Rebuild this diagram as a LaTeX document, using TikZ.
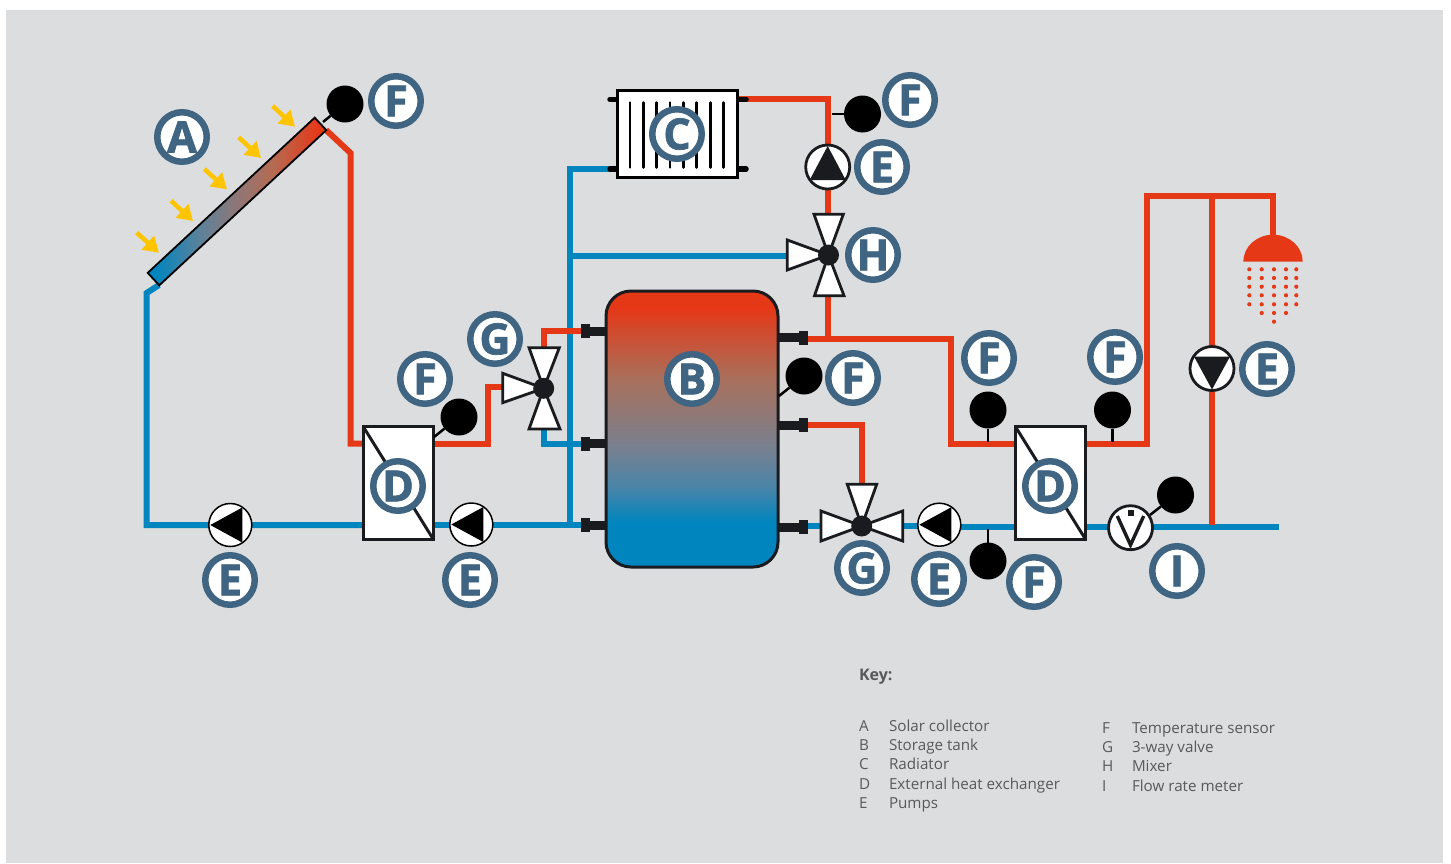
\documentclass[tikz,border=0pt]{standalone}
\usepackage{fontspec}
\setmainfont{Open Sans}
\newfontfamily\badgefont[FakeBold=1.6]{Open Sans Bold}
\usetikzlibrary{arrows.meta}
\definecolor{bgc}{HTML}{DCDDDF}
\definecolor{redp}{HTML}{E53817}
\definecolor{bluep}{HTML}{0085BF}
\definecolor{ring}{HTML}{3F6582}
\definecolor{darkc}{HTML}{1A1B1F}
\definecolor{keyc}{HTML}{58595B}
\definecolor{sun}{HTML}{FFC400}
\definecolor{ta}{HTML}{4A85A8}
\definecolor{tb}{HTML}{7A808E}
\definecolor{tc}{HTML}{A8705C}
\definecolor{pa}{HTML}{5F8299}
\definecolor{pb}{HTML}{8F7676}
\definecolor{pc}{HTML}{B56B52}
\pgfdeclareverticalshading{tankshade}{100bp}{color(0bp)=(bluep); color(33bp)=(bluep); color(39.5bp)=(ta); color(47bp)=(tb); color(59bp)=(tc); color(72bp)=(redp); color(100bp)=(redp)}
\pgfdeclarehorizontalshading{panelshade}{100bp}{color(0bp)=(bluep); color(27bp)=(bluep); color(40bp)=(pa); color(50bp)=(pb); color(60bp)=(pc); color(73bp)=(redp); color(100bp)=(redp)}
\tikzset{
  redpipe/.style={draw=redp,line width=6pt,line join=miter},
  bluepipe/.style={draw=bluep,line width=6pt,line join=miter},
  badge/.style={circle,draw=ring,fill=white,line width=6.5pt,minimum size=49.5pt,inner sep=0pt,outer sep=0pt,text=ring,font=\badgefont\fontsize{43}{43}\selectfont},
  sensor/.style={circle,fill=black,minimum size=37pt,inner sep=0pt,outer sep=0pt},
  stem/.style={draw=black,line width=2.5pt},
  pumpthin/.style={circle,draw=black,fill=white,line width=1.5pt,minimum size=43pt,inner sep=0pt,outer sep=0pt},
  pumpthick/.style={circle,draw=darkc,fill=white,line width=2.8pt,minimum size=44pt,inner sep=0pt,outer sep=0pt},
  hub/.style={circle,fill=darkc,minimum size=21pt,inner sep=0pt,outer sep=0pt},
  blade/.style={draw=darkc,fill=white,line width=2.8pt,line join=miter},
  hx/.style={rectangle,draw=darkc,fill=white,line width=3pt,minimum width=70pt,minimum height=112.5pt,inner sep=0pt,outer sep=0pt},
  portflange/.style={rectangle,fill=darkc,minimum width=9pt,minimum height=14pt,inner sep=0pt,outer sep=0pt},
  portstub/.style={draw=darkc,line width=9pt},
  fin/.style={draw=black,line width=2.5pt,line cap=round},
  nub/.style={draw=black,line width=5.5pt,line cap=round},
  sunray/.style={draw=sun,line width=4.5pt,-{Triangle[width=18pt,length=15pt]}},
  drop/.style={circle,fill=redp,minimum size=4.2pt,inner sep=0pt,outer sep=0pt},
  keytext/.style={anchor=base west,inner sep=0pt,outer sep=0pt,text=keyc,font=\fontsize{15.2}{15.2}\selectfont},
  keyhead/.style={anchor=base west,inner sep=0pt,outer sep=0pt,text=keyc,font=\bfseries\fontsize{16}{16}\selectfont}
}
\begin{document}
\begin{tikzpicture}[x=1pt,y=-1pt]
\useasboundingbox (0,0) rectangle (1451,863);
\fill[white] (0,0) rectangle (1451,863);
\fill[bgc] (6,10) rectangle (1443,863);

% ---- components placed first as coordinates for the pipes
\coordinate (v1) at (543.7,388.3);
\coordinate (v2) at (861.7,526);
\coordinate (v3) at (828.5,255);

% ---- pipes
\coordinate (pa1) at (159,285);   \coordinate (pa2) at (146.7,293);  \coordinate (pa3) at (146.7,525);
\coordinate (hl1) at (364,525);
\draw[bluepipe] (pa1) -- (pa2) -- (pa3) -- (hl1);
\coordinate (pb1) at (326,130);   \coordinate (pb2) at (350.5,153);  \coordinate (pb3) at (350.5,443.7);
\coordinate (hl2) at (364,443.7);
\draw[redpipe] (pb1) -- (pb2) -- (pb3) -- (hl2);
\coordinate (hl3) at (433,443.7); \coordinate (pc1) at (488,443.7);  \coordinate (pc2) at (488,387);  \coordinate (pc3) at (503,387);
\draw[redpipe] (hl3) -- (pc1) -- (pc2) -- (pc3);
\coordinate (hl4) at (433,525);   \coordinate (t1) at (590,525);
\draw[bluepipe] (hl4) -- (t1);
\coordinate (jb) at (569.5,528);  \coordinate (pd1) at (569.5,168.7); \coordinate (pd2) at (615,168.7);
\draw[bluepipe] (jb) -- (pd1) -- (pd2);
\coordinate (pe1) at (569.5,256); \coordinate (pe2) at (788,256);
\draw[bluepipe] (pe1) -- (pe2);
\coordinate (pf1) at (543.7,350); \coordinate (pf2) at (543.7,330.7); \coordinate (t2) at (582,330.7);
\draw[redpipe] (pf1) -- (pf2) -- (t2);
\coordinate (pg1) at (543.7,428); \coordinate (pg2) at (543.7,443.7); \coordinate (t3) at (582,443.7);
\draw[bluepipe] (pg1) -- (pg2) -- (t3);
\coordinate (r1) at (738,99.3);   \coordinate (ph1) at (828.3,99.3);  \coordinate (ph2) at (828.3,216);
\draw[redpipe] (r1) -- (ph1) -- (ph2);
\coordinate (t4) at (805,338.7);  \coordinate (pi1) at (951,338.7);   \coordinate (pi2) at (951,443.7); \coordinate (hr1) at (1016,443.7);
\draw[redpipe] (t4) -- (pi1) -- (pi2) -- (hr1);
\coordinate (pj1) at (828.3,294); \coordinate (pj2) at (828.3,338.7);
\draw[redpipe] (pj1) -- (pj2);
\coordinate (t5) at (805,425);    \coordinate (pk1) at (862.3,425);   \coordinate (pk2) at (862.3,486);
\draw[redpipe] (t5) -- (pk1) -- (pk2);
\coordinate (t6) at (805,526);    \coordinate (pl1) at (822,526);
\draw[bluepipe] (t6) -- (pl1);
\coordinate (pl2) at (902,526);   \coordinate (pl2b) at (930,526);
\draw[bluepipe] (pl2) -- (pl2b);
\coordinate (pl3a) at (950,527);  \coordinate (pl3) at (1016,527);
\draw[bluepipe] (pl3a) -- (pl3);
\coordinate (hr2) at (1085,527);  \coordinate (pm1) at (1278.5,527);
\draw[bluepipe] (hr2) -- (pm1);
\coordinate (hr3) at (1085,443.7); \coordinate (pn1) at (1146.7,443.7); \coordinate (pn2) at (1146.7,196); \coordinate (pn3) at (1272.7,196); \coordinate (pn4) at (1272.7,238);
\draw[redpipe] (hr3) -- (pn1) -- (pn2) -- (pn3) -- (pn4);
\coordinate (po1) at (1212,196);  \coordinate (po2) at (1212,525);
\draw[redpipe] (po1) -- (po2);

% ---- solar collector
\node[rectangle,rotate=42.9,shading=panelshade,draw=black,line width=1.8pt,minimum width=228pt,minimum height=17pt,inner sep=0pt,outer sep=0pt] (panel) at (237,201.5) {};
\coordinate (s1t) at (323,122);
\foreach \ta/\tb/\ca/\cb in {136.7/232.7/159/252.7,171/200.7/193/221,204.3/169/227/189.3,238.7/137.3/261/158,272.7/106/295/126.7}
  \draw[sunray] (\ta,\tb) -- (\ca,\cb);

% ---- radiator
\foreach \yy in {99.3,169}{
  \draw[nub] (610,\yy) -- (618,\yy);
  \draw[nub] (737,\yy) -- (746,\yy);
}
\node[rectangle,draw=black,fill=white,line width=3pt,minimum width=120.4pt,minimum height=86.7pt,inner sep=0pt,outer sep=0pt] (radiator) at (677.5,134.3) {};
\foreach \xx in {630,643.3,656.7,670,683.3,696.7,710.3,723.7}
  \draw[fin] (\xx,102.5) -- (\xx,167.5);

% ---- storage tank
\foreach \yy/\nm in {331/pta,443.7/ptb,525/ptc}{
  \draw[portstub] (589,\yy) -- (607,\yy);
  \node[portflange] (\nm) at (585,\yy) {};
}
\foreach \yy/\nm in {337.7/ptd,425/pte,527/ptf}{
  \draw[portstub] (777,\yy) -- (799,\yy);
  \node[portflange] (\nm) at (803,\yy) {};
}
\node[rectangle,rounded corners=25pt,shading=tankshade,draw=darkc,line width=3pt,minimum width=172pt,minimum height=276pt,inner sep=0pt,outer sep=0pt] (tank) at (692,429) {};

% ---- heat exchangers
\node[hx] (hxl) at (398.3,483) {};
\draw[darkc,line width=3pt] (hxl.north west) -- (hxl.south east);
\node[hx] (hxr) at (1050.5,483) {};
\draw[darkc,line width=3pt] (hxr.north west) -- (hxr.south east);

% ---- sensors
\node[sensor] (s1) at (345,104) {};   \draw[stem] (s1) -- (s1t);
\node[sensor] (s2) at (862.5,114) {}; \coordinate (s2t) at (832,114);  \draw[stem] (s2) -- (s2t);
\node[sensor] (s3) at (459,417) {};   \coordinate (s3t) at (434,437);  \draw[stem] (s3) -- (s3t);
\node[sensor] (s4) at (804,376) {};   \coordinate (s4t) at (779,396);  \draw[stem] (s4) -- (s4t);
\node[sensor] (s5) at (988,410) {};   \coordinate (s5t) at (988,442);  \draw[stem] (s5) -- (s5t);
\node[sensor] (s6) at (1112.5,410) {};\coordinate (s6t) at (1112.5,442);\draw[stem] (s6) -- (s6t);
\node[sensor] (s7) at (988,561) {};   \coordinate (s7t) at (988,529);  \draw[stem] (s7) -- (s7t);
\node[sensor] (s8) at (1175.5,495) {};\coordinate (s8t) at (1150,515); \draw[stem] (s8) -- (s8t);

% ---- pumps
\node[pumpthin] (p1) at (230.3,525) {};
\fill[black] ([shift={(-20,0)}]p1.center) -- ([shift={(12,-17.5)}]p1.center) -- ([shift={(12,17.5)}]p1.center) -- cycle;
\node[pumpthin] (p2) at (471.3,524.5) {};
\fill[black] ([shift={(-20,0)}]p2.center) -- ([shift={(12,-17.5)}]p2.center) -- ([shift={(12,17.5)}]p2.center) -- cycle;
\node[pumpthin] (p3) at (939.3,524.7) {};
\fill[black] ([shift={(-20,0)}]p3.center) -- ([shift={(12,-17.5)}]p3.center) -- ([shift={(12,17.5)}]p3.center) -- cycle;
\node[pumpthick] (p4) at (827.7,167) {};
\fill[darkc] ([shift={(0,-21)}]p4.center) -- ([shift={(18,13)}]p4.center) -- ([shift={(-18,13)}]p4.center) -- cycle;
\node[pumpthick] (p5) at (1212,368.5) {};
\fill[darkc] ([shift={(0,21)}]p5.center) -- ([shift={(18,-12)}]p5.center) -- ([shift={(-18,-12)}]p5.center) -- cycle;

% ---- flow meter
\node[pumpthick] (meter) at (1130.5,527.7) {};
\draw[darkc,line width=3.4pt,line join=miter] (1117.3,516) -- (1130.5,545) -- (1143.7,516);
\node[rectangle,fill=darkc,minimum size=6pt,inner sep=0pt,outer sep=0pt] (meterdot) at (1131,512.7) {};

% ---- valves
\filldraw[blade] (529,347.7) -- (559.3,347.7) -- (v1) -- cycle;
\filldraw[blade] (529,429) -- (560,429) -- (v1) -- cycle;
\filldraw[blade] (502.7,373.3) -- (502.7,402.7) -- (v1) -- cycle;
\node[hub] (h1) at (v1) {};
\filldraw[blade] (847.3,484.3) -- (876.7,484.3) -- (v2) -- cycle;
\filldraw[blade] (821,511) -- (821,541) -- (v2) -- cycle;
\filldraw[blade] (902.7,511) -- (902.7,541) -- (v2) -- cycle;
\node[hub] (h2) at (v2) {};
\filldraw[blade] (814,214.3) -- (843.3,214.3) -- (v3) -- cycle;
\filldraw[blade] (814.5,295.7) -- (844,295.7) -- (v3) -- cycle;
\filldraw[blade] (787.3,240) -- (787.3,270) -- (v3) -- cycle;
\node[hub] (h3) at (v3) {};

% ---- shower
\fill[redp] (1243.3,261.7) arc[start angle=180,end angle=360,x radius=29.7,y radius=27] -- cycle;
\foreach \yy/\rr in {269.3/a,278/b,286.7/c,295.3/d,304.3/e}
  \foreach \xx in {1249.3,1261.7,1274,1286,1296.3}
    \node[drop] (d\rr\xx) at (\xx,\yy) {};
\foreach \xx in {1261.7,1274,1286}
  \node[drop] (df\xx) at (\xx,313) {};
\node[drop] (dg) at (1274,321.7) {};

% ---- letter badges
\node[badge] (bA) at (182,137) {A};
\node[badge] (bF1) at (396,101) {F};
\node[badge] (bF2) at (910,100) {F};
\node[badge] (bE1) at (882,167) {E};
\node[badge] (bC) at (677,134) {C};
\node[badge] (bH) at (873,255) {H};
\node[badge] (bG1) at (495,339) {G};
\node[badge] (bF3) at (425,379) {F};
\node[badge] (bD1) at (398,486) {D};
\node[badge] (bB) at (692,379) {B};
\node[badge] (bF4) at (853,378) {F};
\node[badge] (bG2) at (862,568) {G};
\node[badge] (bE2) at (939,579) {E};
\node[badge] (bF5) at (1034,582) {F};
\node[badge] (bD2) at (1050,486) {D};
\node[badge] (bF6) at (989,358) {F};
\node[badge] (bF7) at (1115,357) {F};
\node[badge] (bE3) at (1267,369) {E};
\node[badge] (bI) at (1177,571) {I};
\node[badge] (bE4) at (230,580) {E};
\node[badge] (bE5) at (470,580) {E};

% ---- key
\node[keyhead] (keyt) at (859,680) {Key:};
\node[keytext] (ka) at (859,731) {A};   \node[keytext] (kat) at (889,731) {Solar collector};
\node[keytext] (kb) at (859,750) {B};   \node[keytext] (kbt) at (889,750) {Storage tank};
\node[keytext] (kc) at (859,769) {C};   \node[keytext] (kct) at (889,769) {Radiator};
\node[keytext] (kd) at (859,789) {D};   \node[keytext] (kdt) at (889,789) {External heat exchanger};
\node[keytext] (ke) at (859,808) {E};   \node[keytext] (ket) at (889,808) {Pumps};
\node[keytext] (kf) at (1102,733) {F};  \node[keytext] (kft) at (1132,733) {Temperature sensor};
\node[keytext] (kg) at (1102,752) {G};  \node[keytext] (kgt) at (1132,752) {3-way valve};
\node[keytext] (kh) at (1102,771) {H};  \node[keytext] (kht) at (1132,771) {Mixer};
\node[keytext] (ki) at (1102,791) {I};  \node[keytext] (kit) at (1132,791) {Flow rate meter};
\end{tikzpicture}
\end{document}
